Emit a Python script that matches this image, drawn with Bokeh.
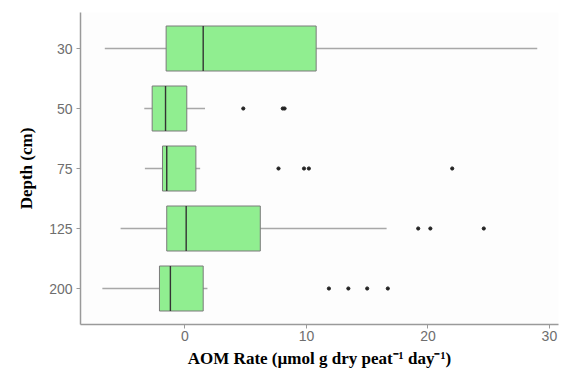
from bokeh.plotting import figure
from bokeh.models import FactorRange, FixedTicker, ColumnDataSource
from bokeh.embed import file_html
from bokeh.resources import INLINE

# Depth classes (cm), top to bottom
depths = ["30", "50", "75", "125", "200"]

# Box-plot summary of AOM rate per depth (µmol g dry peat^-1 day^-1)
whisker_low = [-6.6, -3.35, -3.3, -5.3, -6.8]
q1 = [-1.55, -2.7, -1.85, -1.5, -2.1]
median = [1.5, -1.6, -1.5, 0.1, -1.2]
q3 = [10.8, 0.15, 0.9, 6.2, 1.5]
whisker_high = [29.0, 1.65, 1.25, 16.6, 1.85]

# Outlying observations per depth
outliers = {
    "30": [],
    "50": [4.8, 8.05, 8.2],
    "75": [7.7, 9.8, 10.2, 22.0],
    "125": [19.2, 20.2, 24.6],
    "200": [11.85, 13.45, 15.0, 16.7],
}

x_ticks = [0, 10, 20, 30]

box_src = ColumnDataSource(dict(depth=depths, lo=whisker_low, q1=q1, med=median,
                                q3=q3, hi=whisker_high))
out_depth = [d for d in depths for _ in outliers[d]]
out_value = [v for d in depths for v in outliers[d]]
out_src = ColumnDataSource(dict(depth=out_depth, value=out_value))

p = figure(
    width=567, height=381,
    x_range=(-8.6, 30.75),
    y_range=FactorRange(factors=list(reversed(depths)), range_padding=0.1,
                        range_padding_units="absolute"),
    output_backend="svg", toolbar_location=None,
    min_border_left=80, min_border_right=9, min_border_top=12, min_border_bottom=57,
)

# whiskers
p.segment(x0="lo", y0="depth", x1="hi", y1="depth", source=box_src,
          line_color="#A8A8A8", line_width=1.6)
# boxes
p.hbar(y="depth", left="q1", right="q3", height=0.75, source=box_src,
       fill_color="#90EE90", line_color="#7A7A7A", line_width=1)
# medians
p.hbar(y="depth", left="med", right="med", height=0.75, source=box_src,
       fill_alpha=0, line_color="#333333", line_width=1.4)
# outliers
p.scatter(x="value", y="depth", source=out_src, size=3.2,
          fill_color="#222222", line_color="#222222")

p.xgrid.visible = False
p.ygrid.visible = False
p.outline_line_color = None
p.background_fill_color = "#FDFDFD"
p.border_fill_color = "white"

p.xaxis.ticker = FixedTicker(ticks=x_ticks)
p.xaxis.axis_label = "AOM Rate (µmol g dry peat⁻¹ day⁻¹)"
p.yaxis.axis_label = "Depth (cm)"

for ax in (p.xaxis, p.yaxis):
    ax.axis_line_color = "#9A9A9A"
    ax.axis_line_width = 1.5
    ax.major_tick_line_color = "#9A9A9A"
    ax.major_tick_in = 0
    ax.major_tick_out = 4
    ax.minor_tick_line_color = None
    ax.major_label_text_font = "Liberation Sans"
    ax.major_label_text_font_size = "14px"
    ax.major_label_text_color = "#6E6E6E"
    ax.axis_label_text_font = "Liberation Serif"
    ax.axis_label_text_font_style = "bold"
    ax.axis_label_text_font_size = "17px"
    ax.axis_label_text_color = "black"

p.xaxis.major_label_standoff = 2
p.xaxis.axis_label_standoff = 5
p.yaxis.major_label_standoff = 4
p.yaxis.axis_label_standoff = 10

open("out.html", "w").write(file_html(p, INLINE))
